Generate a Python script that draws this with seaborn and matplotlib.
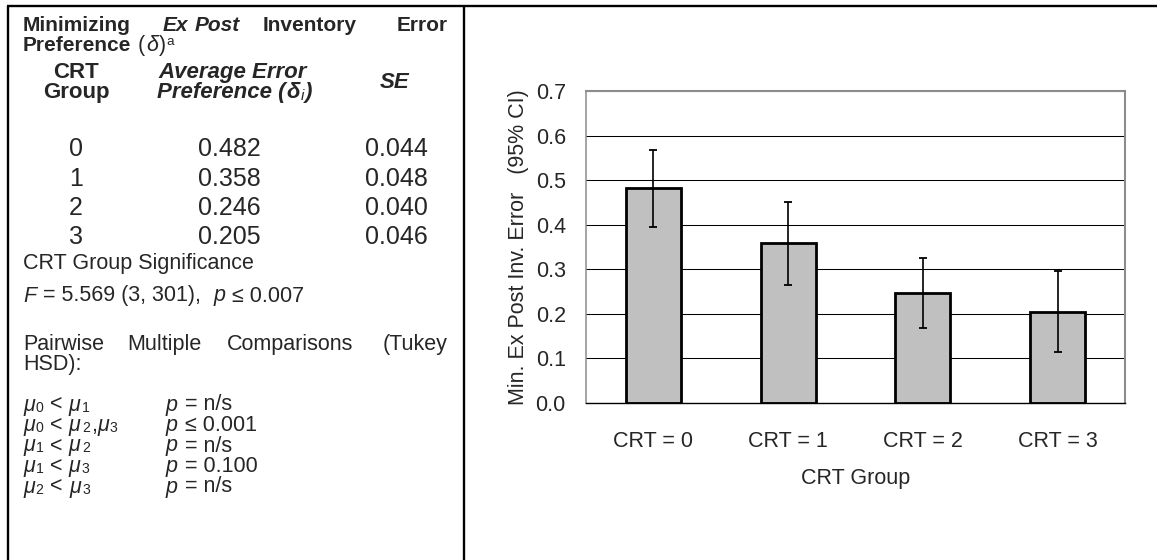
import numpy as np
import pandas as pd
import matplotlib
matplotlib.use("Agg")
import matplotlib.pyplot as plt
import seaborn as sns
from matplotlib import font_manager
from matplotlib.ticker import FixedLocator, FormatStrFormatter, NullFormatter

# ---- data -------------------------------------------------------------
crt_level = [0, 1, 2, 3]
mean_pref = [0.482, 0.358, 0.246, 0.205]
std_err = [0.044, 0.048, 0.040, 0.046]
y_ticks = [0.0, 0.1, 0.2, 0.3, 0.4, 0.5, 0.6, 0.7]

comparisons = [
    [("0", "1")],
    [("0", "2"), ("3",)],
    [("1", "2")],
    [("1", "3")],
    [("2", "3")],
]
comp_p = [" = n/s", " ≤ 0.001", " = n/s", " = 0.100", " = n/s"]

crt_labels = [f"CRT = {g}" for g in crt_level]
ci95 = [1.96 * s for s in std_err]
df = pd.DataFrame({"group": crt_labels, "pref": mean_pref})

# ---- style ------------------------------------------------------------
sns.set_style("white")
plt.rcParams["font.family"] = ["Liberation Sans", "DejaVu Sans"]
_names = {f.name for f in font_manager.fontManager.ttflist}
NARROW = "Liberation Sans Narrow" in _names
CHART_FAMILY = ["Liberation Sans Narrow", "Liberation Sans", "DejaVu Sans"] if NARROW else ["Liberation Sans", "DejaVu Sans"]
CHART_SIZE = 17 if NARROW else 15.5

W, H = 1157, 560
fig = plt.figure(figsize=(W / 100, H / 100), dpi=100)

# full-figure layer in pixel units for the table panel and the frame
bg = fig.add_axes([0, 0, 1, 1], zorder=0)
bg.set_xlim(0, W)
bg.set_ylim(H, 0)
bg.axis("off")

frame = dict(color="black", lw=1.7, solid_capstyle="butt")
bg.plot([7, W], [6, 6], **frame)
bg.plot([8, 8], [6, H], **frame)
bg.plot([464, 464], [6, H], **frame)

renderer = fig.canvas.get_renderer()

TXT = 15.5
REG = dict(fontsize=TXT)
IT = dict(fontsize=TXT, fontstyle="italic")
SUB = dict(fontsize=TXT * 0.65)
B = dict(fontsize=15, fontweight="bold")
BI = dict(fontsize=15, fontweight="bold", fontstyle="italic")
HB = dict(fontsize=16, fontweight="bold")
HBI = dict(fontsize=16, fontweight="bold", fontstyle="italic")
NUM = dict(fontsize=18)


def runs(x, y, pieces, ha="left", gap=0.8):
    """Draw consecutive text pieces of mixed style on a common baseline."""
    objs, widths = [], []
    for p in pieces:
        s, kw = p[0], p[1]
        dy = p[2] if len(p) > 2 else 0
        t = bg.text(0, y + dy, s, va="baseline", ha="left", **kw)
        objs.append(t)
        widths.append(t.get_window_extent(renderer).width)
    total = sum(widths) + gap * (len(objs) - 1)
    cur = x - total / 2 if ha == "center" else x
    for t, w in zip(objs, widths):
        t.set_x(cur)
        cur += w + gap


def text(x, y, s, ha="left", **kw):
    bg.text(x, y, s, va="baseline", ha=ha, **kw)


# title (justified)
for word, kw, x in [("Minimizing", B, 23), ("Ex", BI, 163), ("Post", BI, 195),
                    ("Inventory", B, 263)]:
    text(x, 31, word, **kw)
text(448, 31, "Error", ha="right", **B)
runs(23, 51, [("Preference", B), (" (", REG), ("δ", IT), (")", REG),
              ("a", dict(fontsize=TXT * 0.62), -6)])

# column headers
text(76, 78, "CRT", ha="center", **HB)
text(76, 98, "Group", ha="center", **HB)
text(233, 78, "Average Error", ha="center", **HBI)
runs(235, 98, [("Preference (", HBI), ("δ", HBI), ("i", dict(fontsize=11, fontstyle="italic"), 2),
               (")", HBI)], ha="center")
text(395, 88, "SE", ha="center", **HBI)

# table rows
row_base = [155.5, 185.5, 215, 244.5]
for g, m, s, yb in zip(crt_level, mean_pref, std_err, row_base):
    text(76, yb, f"{g}", ha="center", **NUM)
    text(229, yb, f"{m:.3f}", ha="center", **NUM)
    text(396, yb, f"{s:.3f}", ha="center", **NUM)

text(23, 269, "CRT Group Significance", **REG)
runs(23, 301.5, [("F", IT), (" = 5.569 (3, 301),", REG), ("  p", IT), (" ≤ 0.007", REG)])

for word, x in [("Pairwise", 23), ("Multiple", 127), ("Comparisons", 227)]:
    text(x, 350, word, **REG)
text(448, 350, "(Tukey", ha="right", **REG)
text(23, 370, "HSD):", **REG)

comp_base = [410.5, 431, 451.5, 472, 492.5]
for pairs, pstr, yb in zip(comparisons, comp_p, comp_base):
    first = pairs[0]
    pieces = [("μ", IT), (first[0], SUB, 1), (" <", REG), (" μ", IT), (first[1], SUB, 1)]
    for extra in pairs[1:]:
        pieces += [(",", REG), ("μ", IT), (extra[0], SUB, 1)]
    runs(23, yb, pieces)
    runs(166, yb, [("p", IT), (pstr, REG)])

# ---- bar chart --------------------------------------------------------
ax = fig.add_axes([586 / W, (H - 403) / H, 539 / W, 312 / H], zorder=2)
ax.set_facecolor("none")
sns.barplot(data=df, x="group", y="pref", color="#C0C0C0", saturation=1,
            edgecolor="black", linewidth=2.0, width=0.41, errorbar=None, ax=ax)
ax.errorbar(x=np.arange(len(mean_pref)), y=mean_pref, yerr=ci95, fmt="none",
            ecolor="black", elinewidth=1.2, capsize=3, capthick=1.3, zorder=3)

ax.set_xlim(-0.5, len(crt_level) - 0.5)
ax.set_ylim(y_ticks[0], y_ticks[-1])
ax.yaxis.set_major_locator(FixedLocator(y_ticks))
ax.yaxis.set_major_formatter(FormatStrFormatter("%.1f"))
ax.set_axisbelow(True)
ax.yaxis.grid(True, color="black", lw=0.75)
ax.xaxis.grid(False)

ax.xaxis.set_minor_locator(FixedLocator(np.arange(-0.5, len(crt_level), 1.0)))
ax.xaxis.set_minor_formatter(NullFormatter())
ax.tick_params(axis="x", which="major", length=0, pad=20)
ax.tick_params(axis="x", which="minor", length=5.5, width=0.9, color="black", direction="out")
ax.tick_params(axis="y", which="major", length=6, width=0.9, color="#808080", direction="out", pad=8.5)
for lab in ax.get_xticklabels() + ax.get_yticklabels():
    lab.set_fontfamily(CHART_FAMILY)
    lab.set_fontsize(CHART_SIZE)

for side in ("top", "right"):
    ax.spines[side].set_color("#8c8c8c")
    ax.spines[side].set_linewidth(1.5)
ax.spines["left"].set_color("#8c8c8c")
ax.spines["left"].set_linewidth(1.1)
ax.spines["bottom"].set_color("black")
ax.spines["bottom"].set_linewidth(1.0)

ax.set_xlabel("CRT Group", family=CHART_FAMILY, fontsize=CHART_SIZE, labelpad=12)
ax.set_ylabel("Min. Ex Post Inv. Error   (95% CI)", family=CHART_FAMILY,
              fontsize=CHART_SIZE, va="center")
ax.yaxis.set_label_coords(-0.126, 0.5)

fig.savefig("out.png", dpi=100)
